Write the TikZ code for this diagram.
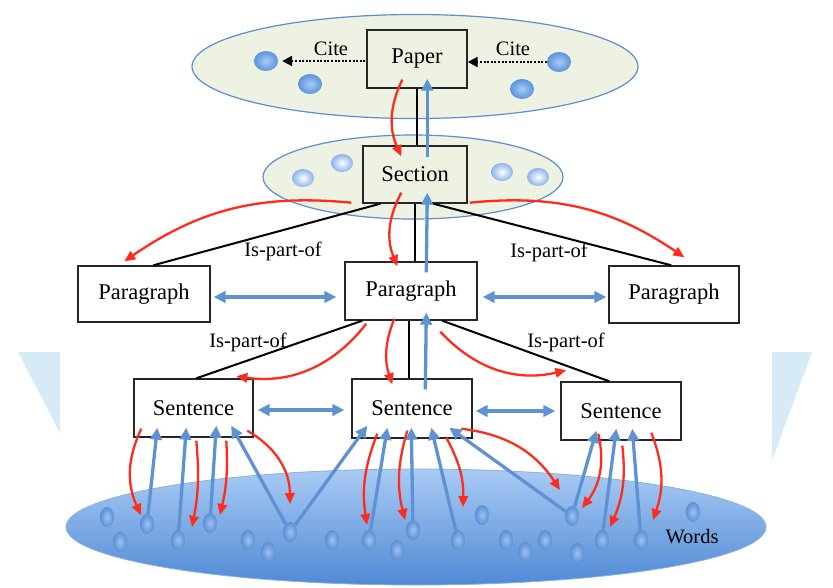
\documentclass[tikz,border=0pt]{standalone}
\usepackage{fontspec}
\setmainfont{Liberation Serif}
\usetikzlibrary{shapes.geometric,arrows.meta,calc}
\definecolor{redc}{HTML}{FF2B1C}
\definecolor{bluec}{HTML}{5E92D3}
\definecolor{creme}{HTML}{EEF2E3}
\definecolor{rimc}{HTML}{5C8ED2}
\definecolor{wmark}{HTML}{D6EBF6}
\definecolor{dotin}{HTML}{A6CCF6}
\definecolor{dotout}{HTML}{5C93DC}
\definecolor{wdotin}{HTML}{9DC3F0}
\definecolor{wdotout}{HTML}{5A8FD6}
\definecolor{sdotout}{HTML}{8CB4EA}
\definecolor{wordtop}{HTML}{A9CBF4}
\definecolor{wordbot}{HTML}{5089D5}
\begin{document}
\begin{tikzpicture}[x=1pt,y=-1pt,
  box/.style={draw=black!85,line width=1.4pt,inner sep=0pt,font=\fontsize{22.5}{26}\selectfont},
  wbox/.style={box,fill=white},
  lab/.style={font=\fontsize{20.5}{24}\selectfont,inner sep=1pt},
  redarr/.style={draw=redc,line width=2.3pt,-{Triangle[length=11pt,width=9.5pt]}},
  bluearr/.style={draw=bluec,line width=3.3pt,-{Triangle[length=12pt,width=11.5pt]}},
  bluedbl/.style={draw=bluec,line width=3.3pt,{Triangle[length=12pt,width=11.5pt]}-{Triangle[length=12pt,width=11.5pt]}},
  part/.style={draw=black,line width=2pt},
  citearr/.style={draw=black,line width=2.2pt,dash pattern=on 2pt off 1.6pt,-{Triangle[length=10pt,width=10pt]}},
  pdot/.style={ellipse,minimum width=24pt,minimum height=20pt,inner sep=0pt,inner color=dotin,outer color=dotout},
  sdot/.style={ellipse,minimum width=22pt,minimum height=18pt,inner sep=0pt,inner color=white,outer color=sdotout},
  wdot/.style={ellipse,minimum width=14pt,minimum height=20pt,inner sep=0pt,inner color=wdotin,outer color=wdotout},
]
\useasboundingbox (0,0) rectangle (833,587);
\fill[white] (0,0) rectangle (833,587);
% watermark pieces
\fill[wmark] (18,352) -- (60,352) -- (60,433) -- cycle;
\fill[wmark] (772,352) -- (812,352) -- (772,460) -- cycle;
% ellipses
\draw[fill=creme,draw=rimc,line width=1.2pt] (415,66.5) ellipse (223pt and 52pt);
\draw[fill=creme,draw=rimc,line width=1.2pt] (413,177) ellipse (150pt and 42pt);
\draw[top color=wordtop,bottom color=wordbot,draw=rimc!70,line width=0.8pt] (416,527) ellipse (350pt and 58pt);
% boxes
\node[box,minimum width=100pt,minimum height=58pt] (paper) at (417,59) {Paper};
\node[box,minimum width=104pt,minimum height=57pt] (section) at (415,174.5) {Section};
\node[wbox,minimum width=132pt,minimum height=56pt] (parL) at (144,294) {Paragraph};
\node[wbox,minimum width=132pt,minimum height=58pt] (parC) at (411,291) {Paragraph};
\node[wbox,minimum width=130pt,minimum height=57pt] (parR) at (674,294.5) {Paragraph};
\node[wbox,minimum width=119pt,minimum height=58pt] (senL) at (193.5,408) {Sentence};
\node[wbox,minimum width=120pt,minimum height=59pt] (senC) at (412,408.5) {Sentence};
\node[wbox,minimum width=120pt,minimum height=58pt] (senR) at (621,411) {Sentence};
% dots
\node[pdot] (p1) at (266,61) {};
\node[pdot] (p2) at (310,84) {};
\node[pdot] (p3) at (559,62) {};
\node[pdot] (p4) at (522,89) {};
\node[sdot] (s1) at (303,178) {};
\node[sdot] (s2) at (342,163) {};
\node[sdot] (s3) at (502,172) {};
\node[sdot] (s4) at (538,177) {};
\foreach \n/\x/\y in {1/107/517,2/120/542,3/147/524,4/178/540,5/210/523,6/248/540,7/268/552,8/290/532,9/332/540,10/369/540,11/397/550,12/413/530,13/458/540,14/482/515,15/506/540,16/525/552,17/545/540,18/572/516,19/577/553,20/602/540,21/641/540,22/693/512}
  \node[wdot] (w\n) at (\x,\y) {};
% labels
\node[lab] (cite1) at (331,49) {Cite};
\node[lab] (cite2) at (513,49) {Cite};
\node[lab] (ip1) at (283,251) {Is-part-of};
\node[lab] (ip2) at (549,252) {Is-part-of};
\node[lab] (ip3) at (248,342) {Is-part-of};
\node[lab] (ip4) at (566,342) {Is-part-of};
\node[lab] (words) at (692,537) {Words};
% cite arrows
\draw[citearr,shorten >=4pt] ($(paper.west)+(-1,2)$) -- (p1);
\draw[citearr] (p3) -- ($(paper.east)+(0,3)$);
% is-part-of lines
\draw[part] (paper.south) -- (paper.south |- section.north);
\draw[part] (section.south) -- (section.south |- parC.north);
\draw[part] ($(section.south west)+(18,0)$) -- ($(parL.north west)+(76,0)$);
\draw[part] ($(section.south west)+(71,0)$) -- ($(parR.north west)+(63,0)$);
\draw[part] ($(parC.south west)+(65,0)$) -- ($(senC.north west)+(58,0)$);
\draw[part] ($(parC.south west)+(18,0)$) -- ($(senL.north west)+(63,0)$);
\draw[part] ($(parC.south west)+(98,0)$) -- ($(senR.north west)+(49,0)$);
% upper red / blue
\draw[redarr] ($(paper.south west)+(36,-9)$) to[bend right=25] ($(section.north west)+(39,11)$);
\draw[bluearr] ($(section.north west)+(65,12)$) -- ($(paper.south west)+(61,-10)$);
\draw[redarr] ($(section.south west)+(39,-11)$) to[bend right=25] ($(parC.north west)+(53,5)$);
\draw[bluearr] ($(parC.north west)+(82,11)$) -- ($(section.south west)+(65,-11)$);
\draw[redarr] ($(section.south west)+(-11,-1)$) to[bend right=20] ($(parL.north west)+(47,-4)$);
\draw[redarr] ($(section.south east)+(2,-1)$) to[bend left=20] ($(parR.north west)+(76,-8)$);
\draw[redarr] ($(parC.south west)+(22,3)$) to[bend left=30] ($(senL.north west)+(103,-2)$);
\draw[redarr] ($(parC.south west)+(50,-2)$) to[bend right=20] ($(senC.north west)+(41,6)$);
\draw[bluearr] ($(senC.north west)+(74,11)$) -- ($(parC.south west)+(82,-8)$);
\draw[redarr] ($(parC.south west)+(96,11)$) to[bend right=30] ($(senR.north west)+(6,-11)$);
% horizontal double arrows
\draw[bluedbl] ($(parL.east)+(3,3)$) -- ($(parC.west)+(-8,6)$);
\draw[bluedbl] ($(parC.east)+(5,6)$) -- ($(parR.west)+(-2,2.5)$);
\draw[bluedbl] ($(senL.east)+(4,2)$) -- ($(senC.west)+(-7,1.5)$);
\draw[bluedbl] ($(senC.east)+(3,2.5)$) -- ($(senR.west)+(-5,0)$);
% left sentence
\draw[redarr] ($(senL.south west)+(8,-9)$) to[bend right=25] ($(w3)+(-6,-9)$);
\draw[bluearr] (w3) -- ($(senL.south west)+(24,-10)$);
\draw[bluearr] (w4) -- ($(senL.south west)+(53,-10)$);
\draw[redarr] ($(senL.south west)+(63,3)$) to[bend left=8] ($(w4)+(14,-13)$);
\draw[bluearr] (w5) -- ($(senL.south west)+(83,-12)$);
\draw[redarr] ($(senL.south west)+(93,3)$) to[bend left=8] ($(w5)+(10,-8)$);
\draw[bluearr] (w8) -- ($(senL.south west)+(98,-12)$);
\draw[redarr] ($(senL.south west)+(114,-7)$) to[bend left=30] ($(w8)+(0,-28)$);
\draw[bluearr] (w8) -- ($(senC.south west)+(16,-13)$);
% center sentence
\draw[redarr] ($(senC.south west)+(26,-5)$) to[bend right=15] ($(w10)+(-2,-15)$);
\draw[bluearr] (w10) -- ($(senC.south west)+(36,-11)$);
\draw[redarr] ($(senC.south west)+(56,-8)$) to[bend right=15] ($(w12)+(-8,-10)$);
\draw[bluearr] (w12) -- ($(senC.south west)+(60,-11)$);
\draw[bluearr] (w13) -- ($(senC.south west)+(80,-11)$);
\draw[redarr] ($(senC.south west)+(95,-1)$) to[bend left=15] ($(w14)+(-19,-8)$);
\draw[bluearr] (w18) -- ($(senC.south west)+(98,-11)$);
\draw[redarr] ($(senC.south west)+(110,-10)$) to[bend left=25] ($(w18)+(-12,-26)$);
% right sentence
\draw[bluearr] (w18) -- ($(senR.south west)+(36,-10)$);
\draw[redarr] ($(senR.south west)+(38,-7)$) to[bend left=25] ($(w18)+(10,-8)$);
\draw[bluearr] (w20) -- ($(senR.south west)+(56,-12)$);
\draw[redarr] ($(senR.south west)+(62,5)$) to[bend left=15] ($(w20)+(8,-13)$);
\draw[bluearr] (w21) -- ($(senR.south west)+(72,-12)$);
\draw[redarr] ($(senR.south west)+(91,-8)$) to[bend left=20] ($(w21)+(12,-20)$);
\end{tikzpicture}
\end{document}
